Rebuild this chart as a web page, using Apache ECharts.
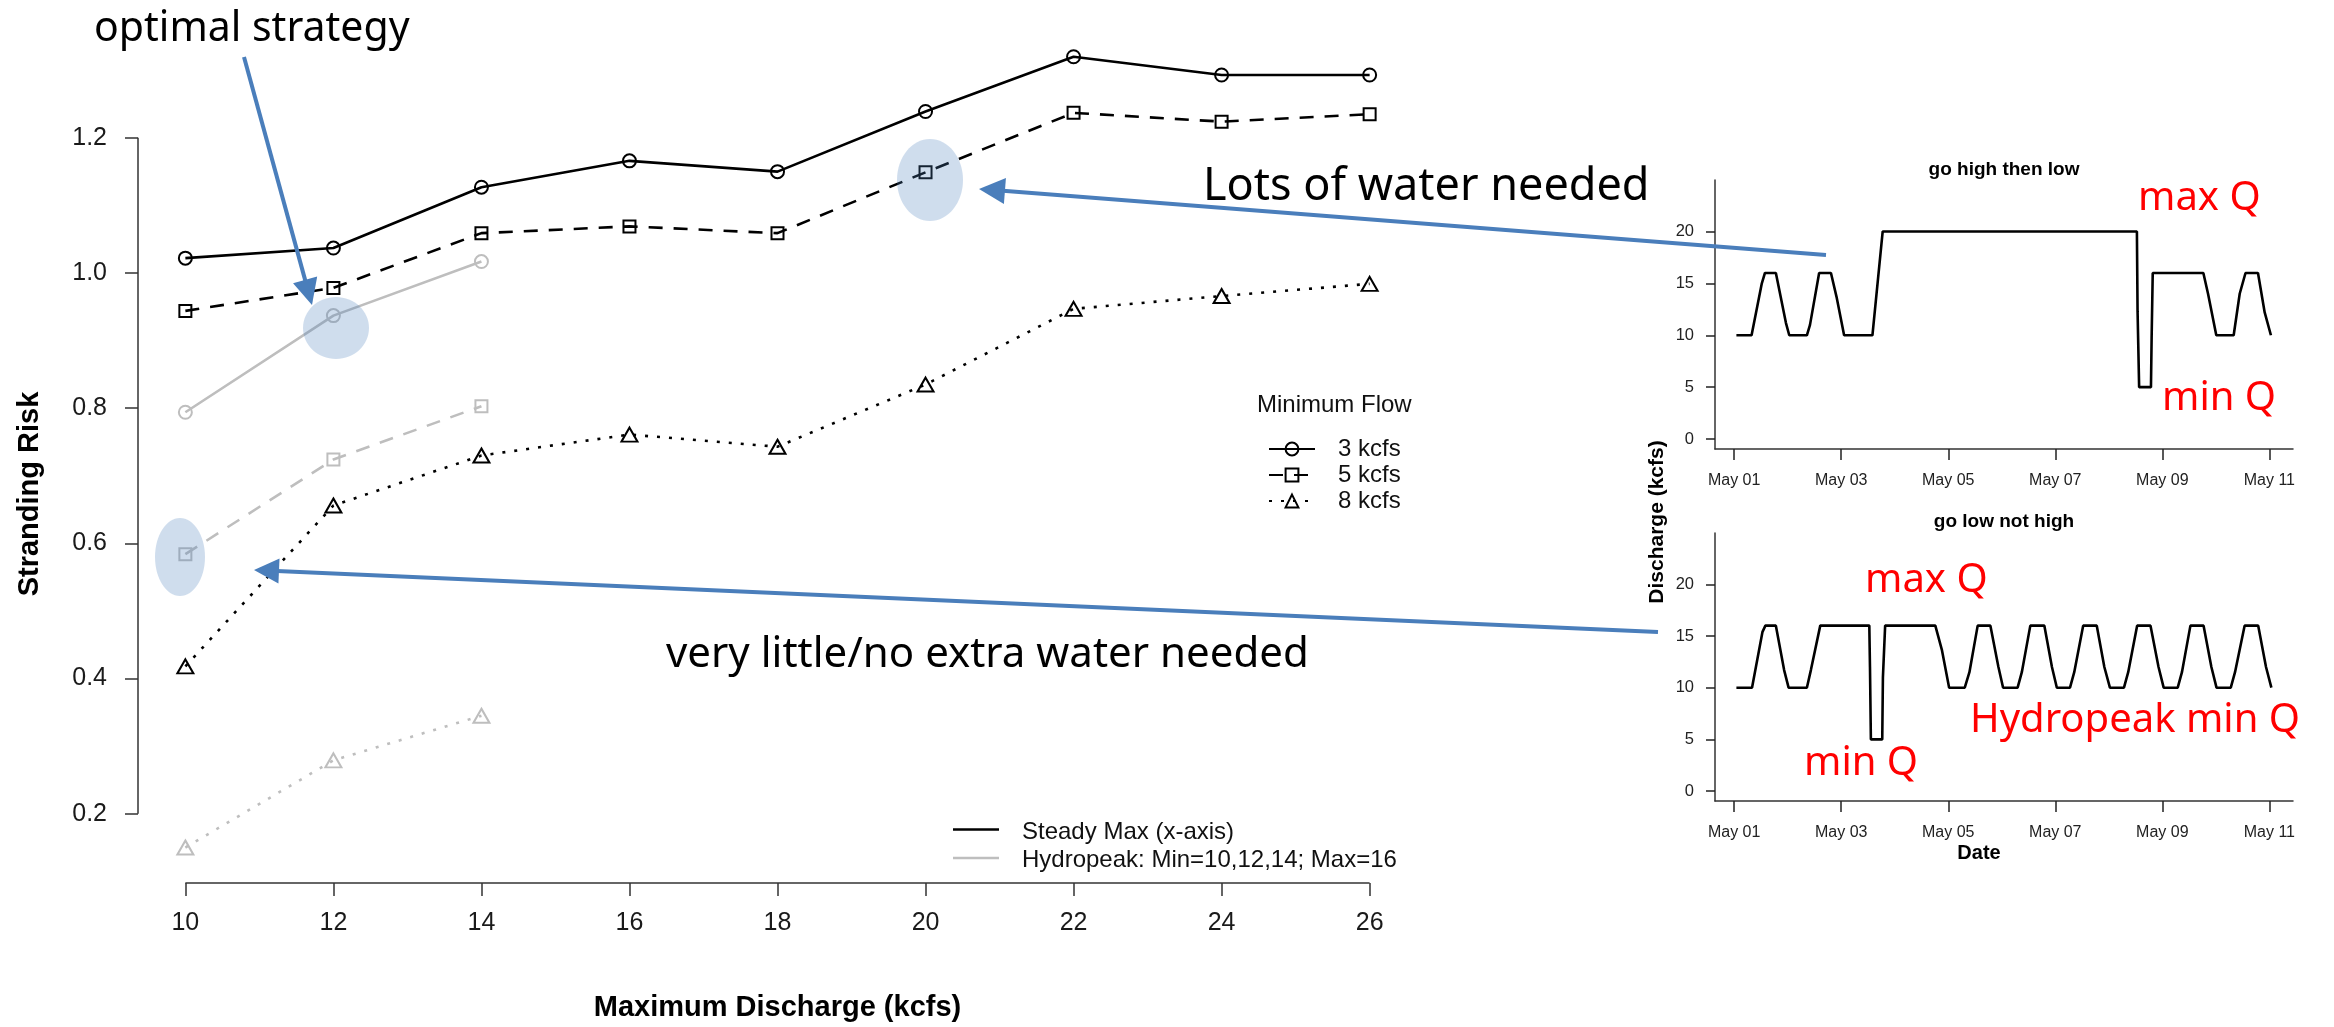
<!DOCTYPE html>
<html><head><meta charset="utf-8">
<script src="https://cdn.jsdelivr.net/npm/echarts@6/dist/echarts.min.js"></script>
<style>html,body{margin:0;padding:0;background:#fff}#c{width:2334px;height:1027px}</style>
</head><body><div id="c"></div>
<script>
// ---------- data ----------
const maxDischarge = [10, 12, 14, 16, 18, 20, 22, 24, 26];
const hydroMinQ = [10, 12, 14];
const steady3 = [1.022, 1.037, 1.127, 1.166, 1.150, 1.239, 1.320, 1.293, 1.293];
const steady5 = [0.944, 0.978, 1.059, 1.069, 1.059, 1.149, 1.237, 1.224, 1.235];
const steady8 = [0.418, 0.656, 0.730, 0.761, 0.743, 0.835, 0.947, 0.966, 0.984];
const hydro3 = [0.794, 0.937, 1.017];
const hydro5 = [0.584, 0.724, 0.803];
const hydro8 = [0.150, 0.279, 0.345];
const xTicks = [10, 12, 14, 16, 18, 20, 22, 24, 26];
const yTicks = [0.2, 0.4, 0.6, 0.8, 1.0, 1.2];
const yTickLabels = ['0.2', '0.4', '0.6', '0.8', '1.0', '1.2'];

// small charts: hours since May 01 00:00 and discharge (kcfs)
const hourTicks = [0, 48, 96, 144, 192, 240];
const dateLabels = ['May 01', 'May 03', 'May 05', 'May 07', 'May 09', 'May 11'];
const qTicks = [0, 5, 10, 15, 20];
const highLowHours = [1, 7.8, 12.4, 13.8, 18.7, 23.2, 24.7, 32.6, 34, 38.1, 43.4, 45.9, 49.3, 62, 66.6, 180.6, 180.9, 181.6, 186.9, 187.2, 187.7, 210.4, 212.5, 216.2, 224, 226.7, 229.3, 234.9, 237.9, 240.7];
const highLowQ = [10, 10, 15, 16, 16, 11.2, 10, 10, 11, 16, 16, 13.7, 10, 10, 20, 20, 12.3, 5, 5, 9.7, 16, 16, 14, 10, 10, 14, 16, 16, 12.2, 10];
const lowHours = [1, 8, 12.7, 14, 18.7, 22.4, 24.4, 32.6, 34.4, 38.6, 60.6, 60.9, 61.3, 66.4, 66.7, 67.7, 90.2, 93.2, 96.4, 103.4, 105.5, 109.2, 114.9, 118.5, 120.6, 127.1, 129, 132.8, 139.1, 142.5, 144.7, 150.6, 152.5, 156.5, 162.6, 166, 168.5, 174.8, 176.7, 180.7, 186.7, 190.3, 192.6, 198.9, 200.8, 204.6, 210.5, 214, 216.3, 222.7, 224.6, 228.9, 235, 238.5, 240.9];
const lowQ = [10, 10, 15.4, 16, 16, 11.7, 10, 10, 11.7, 16, 16, 12, 5, 5, 11, 16, 16, 13.6, 10, 10, 11.5, 16, 16, 12, 10, 10, 11.5, 16, 16, 12, 10, 10, 11.5, 16, 16, 12, 10, 10, 11.5, 16, 16, 12, 10, 10, 11.5, 16, 16, 12, 10, 10, 11.5, 16, 16, 12, 10];

// ---------- styling ----------
const RF = '"Liberation Sans", Arial, Helvetica, sans-serif';
const AF = '"Noto Sans", "Open Sans", sans-serif';
const GREY = '#bebebe';
const BLUE = '#4a7ebb';
const X_MIN = 9.36, X_MAX = 26.64, Y_MIN = 0.0975, Y_MAX = 1.3655;

function pairs(xs, ys) { return ys.map((v, i) => [xs[i], v]); }
function riskSeries(name, xs, ys, color, symbol, size, dash) {
  return {
    type: 'line', name: name, xAxisIndex: 0, yAxisIndex: 0,
    data: pairs(xs, ys), symbol: symbol, symbolSize: size,
    lineStyle: { color: color, width: 2.6, type: dash },
    itemStyle: { color: 'rgba(0,0,0,0)', borderColor: color, borderWidth: 2 },
    z: 3
  };
}
const DASH = [14, 11], DOT = [3, 9];

const series = [
  riskSeries('3 kcfs', maxDischarge, steady3, '#000', 'circle', 13, 'solid'),
  riskSeries('5 kcfs', maxDischarge, steady5, '#000', 'rect', 12, DASH),
  riskSeries('8 kcfs', maxDischarge, steady8, '#000', 'triangle', [16, 14], DOT),
  riskSeries('Hydropeak 3 kcfs', hydroMinQ, hydro3, GREY, 'circle', 13, 'solid'),
  riskSeries('Hydropeak 5 kcfs', hydroMinQ, hydro5, GREY, 'rect', 12, DASH),
  riskSeries('Hydropeak 8 kcfs', hydroMinQ, hydro8, GREY, 'triangle', [16, 14], DOT),
  // R-style axis lines spanning only the tick range
  { type: 'line', name: 'x axis line', xAxisIndex: 0, yAxisIndex: 0, data: [[xTicks[0], Y_MIN], [xTicks[xTicks.length - 1], Y_MIN]],
    symbol: 'none', silent: true, clip: false, lineStyle: { color: '#333', width: 1.5 }, z: 1 },
  { type: 'line', name: 'y axis line', xAxisIndex: 0, yAxisIndex: 0, data: [[X_MIN, yTicks[0]], [X_MIN, yTicks[yTicks.length - 1]]],
    symbol: 'none', silent: true, clip: false, lineStyle: { color: '#333', width: 1.5 }, z: 1 },
  { type: 'line', name: 'go high then low', xAxisIndex: 1, yAxisIndex: 1, data: pairs(highLowHours, highLowQ),
    symbol: 'none', lineStyle: { color: '#000', width: 2.6 } },
  { type: 'line', name: 'go low not high', xAxisIndex: 2, yAxisIndex: 2, data: pairs(lowHours, lowQ),
    symbol: 'none', lineStyle: { color: '#000', width: 2.6 } }
];

const smallAxisLine = { show: true, onZero: false, lineStyle: { color: '#333', width: 1.5 } };
function smallX(idx, extra) {
  return Object.assign({
    gridIndex: idx, type: 'value', min: -8.6, max: 250.6,
    axisLine: smallAxisLine, splitLine: { show: false },
    axisTick: { show: true, customValues: hourTicks, length: 11, lineStyle: { color: '#222', width: 1.5 } },
    axisLabel: { customValues: hourTicks, formatter: v => dateLabels[hourTicks.indexOf(v)], margin: 24, fontSize: 16, fontFamily: RF, color: '#222' }
  }, extra || {});
}
function smallY(idx) {
  return {
    gridIndex: idx, type: 'value', min: -0.96, max: 24.96,
    axisLine: smallAxisLine, splitLine: { show: false },
    axisTick: { show: true, customValues: qTicks, length: 9, lineStyle: { color: '#222', width: 1.5 } },
    axisLabel: { customValues: qTicks, margin: 21, fontSize: 16.5, fontFamily: RF, color: '#222' }
  };
}

function txt(text, x, y, size, opts) {
  return Object.assign({
    type: 'text', x: x, y: y, z: 120,
    style: Object.assign({ text: text, fontSize: size, fontFamily: RF, fill: '#000', align: 'left', verticalAlign: 'middle' }, (opts && opts.style) || {})
  }, (opts && opts.el) || {});
}
function arrow(x1, y1, x2, y2, hl, hw) {
  const dx = x2 - x1, dy = y2 - y1, L = Math.hypot(dx, dy), ux = dx / L, uy = dy / L;
  const bx = x2 - ux * hl, by = y2 - uy * hl, px = -uy, py = ux;
  return [
    { type: 'line', z: 110, shape: { x1: x1, y1: y1, x2: bx + ux * 2, y2: by + uy * 2 }, style: { stroke: BLUE, lineWidth: 4 } },
    { type: 'polygon', z: 111, shape: { points: [[x2, y2], [bx + px * hw / 2, by + py * hw / 2], [bx - px * hw / 2, by - py * hw / 2]] }, style: { fill: BLUE } }
  ];
}
const ellipseFill = 'rgba(79,129,189,0.27)';

const graphic = [
  // axis titles
  txt('Stranding Risk', 30, 494, 29, { style: { fontWeight: 'bold', align: 'center' }, el: { rotation: Math.PI / 2 } }),
  txt('Discharge (kcfs)', 1657, 522, 21, { style: { fontWeight: 'bold', align: 'center' }, el: { rotation: Math.PI / 2 } }),
  txt('go high then low', 2004, 170, 19, { style: { fontWeight: 'bold', align: 'center' } }),
  txt('go low not high', 2004, 522, 19, { style: { fontWeight: 'bold', align: 'center' } }),
  // legend title
  txt('Minimum Flow', 1257, 405, 24, { style: { fill: '#111' } }),
  // bottom legend
  { type: 'line', z: 100, shape: { x1: 953, y1: 829.5, x2: 999, y2: 829.5 }, style: { stroke: '#000', lineWidth: 2.6 } },
  { type: 'line', z: 100, shape: { x1: 953, y1: 858, x2: 999, y2: 858 }, style: { stroke: GREY, lineWidth: 2.6 } },
  txt('Steady Max (x-axis)', 1022, 832, 24, { style: { fill: '#111' } }),
  txt('Hydropeak: Min=10,12,14; Max=16', 1022, 860, 24, { style: { fill: '#111' } }),
  // highlight ellipses
  { type: 'ellipse', z: 105, shape: { cx: 336, cy: 328, rx: 33, ry: 31 }, style: { fill: ellipseFill } },
  { type: 'ellipse', z: 105, shape: { cx: 930, cy: 180, rx: 33, ry: 41 }, style: { fill: ellipseFill } },
  { type: 'ellipse', z: 105, shape: { cx: 180, cy: 557, rx: 25, ry: 39 }, style: { fill: ellipseFill } },
  ...arrow(244, 57, 312, 305, 26, 25),
  ...arrow(1826, 255, 979, 189, 26, 26),
  ...arrow(1658, 632, 254, 570, 25, 25),
  // annotations
  txt('optimal strategy', 94, 29, 41, { style: { fontFamily: AF } }),
  txt('Lots of water needed', 1203, 187, 45, { style: { fontFamily: AF } }),
  txt('very little/no extra water needed', 666, 655, 42, { style: { fontFamily: AF } }),
  txt('max Q', 2138, 199, 40, { style: { fontFamily: AF, fill: '#ff0000' } }),
  txt('min Q', 2162, 399, 40, { style: { fontFamily: AF, fill: '#ff0000' } }),
  txt('max Q', 1865, 581, 40, { style: { fontFamily: AF, fill: '#ff0000' } }),
  txt('min Q', 1804, 764, 40, { style: { fontFamily: AF, fill: '#ff0000' } }),
  txt('Hydropeak min Q', 1970, 721, 40, { style: { fontFamily: AF, fill: '#ff0000' } })
];

const option = {
  animation: false,
  backgroundColor: '#fff',
  grid: [
    { left: 138, top: 26, width: 1279, height: 861 },
    { left: 1715, top: 180, width: 578, height: 269 },
    { left: 1715, top: 533, width: 578, height: 268 }
  ],
  legend: {
    data: ['3 kcfs', '5 kcfs', '8 kcfs'], orient: 'vertical', left: 1263, top: 432,
    itemWidth: 46, itemHeight: 16, itemGap: 2, selectedMode: false,
    textStyle: { fontSize: 24, fontFamily: RF, color: '#111', padding: [0, 0, 0, 18] }
  },
  xAxis: [
    {
      gridIndex: 0, type: 'value', min: X_MIN, max: X_MAX,
      axisLine: { show: false }, splitLine: { show: false },
      axisTick: { show: true, customValues: xTicks, length: 13, lineStyle: { color: '#333', width: 1.5 } },
      axisLabel: { customValues: xTicks, margin: 28, fontSize: 25, fontFamily: RF, color: '#1a1a1a' },
      name: 'Maximum Discharge (kcfs)', nameLocation: 'middle', nameGap: 110,
      nameTextStyle: { fontSize: 29, fontWeight: 'bold', fontFamily: RF, color: '#000' }
    },
    smallX(1),
    smallX(2, { name: 'Date', nameLocation: 'middle', nameGap: 42,
      nameTextStyle: { fontSize: 20, fontWeight: 'bold', fontFamily: RF, color: '#000', padding: [0, 50, 0, 0] } })
  ],
  yAxis: [
    {
      gridIndex: 0, type: 'value', min: Y_MIN, max: Y_MAX,
      axisLine: { show: false }, splitLine: { show: false },
      axisTick: { show: true, customValues: yTicks, length: 13, lineStyle: { color: '#333', width: 1.5 } },
      axisLabel: { customValues: yTicks, margin: 31, fontSize: 25, fontFamily: RF, color: '#1a1a1a',
        formatter: v => yTickLabels[yTicks.findIndex(t => Math.abs(t - v) < 1e-9)] }
    },
    smallY(1),
    smallY(2)
  ],
  series: series,
  graphic: graphic
};
const chart = echarts.init(document.getElementById('c'), null, { renderer: 'canvas' });
chart.setOption(option);
</script></body></html>
